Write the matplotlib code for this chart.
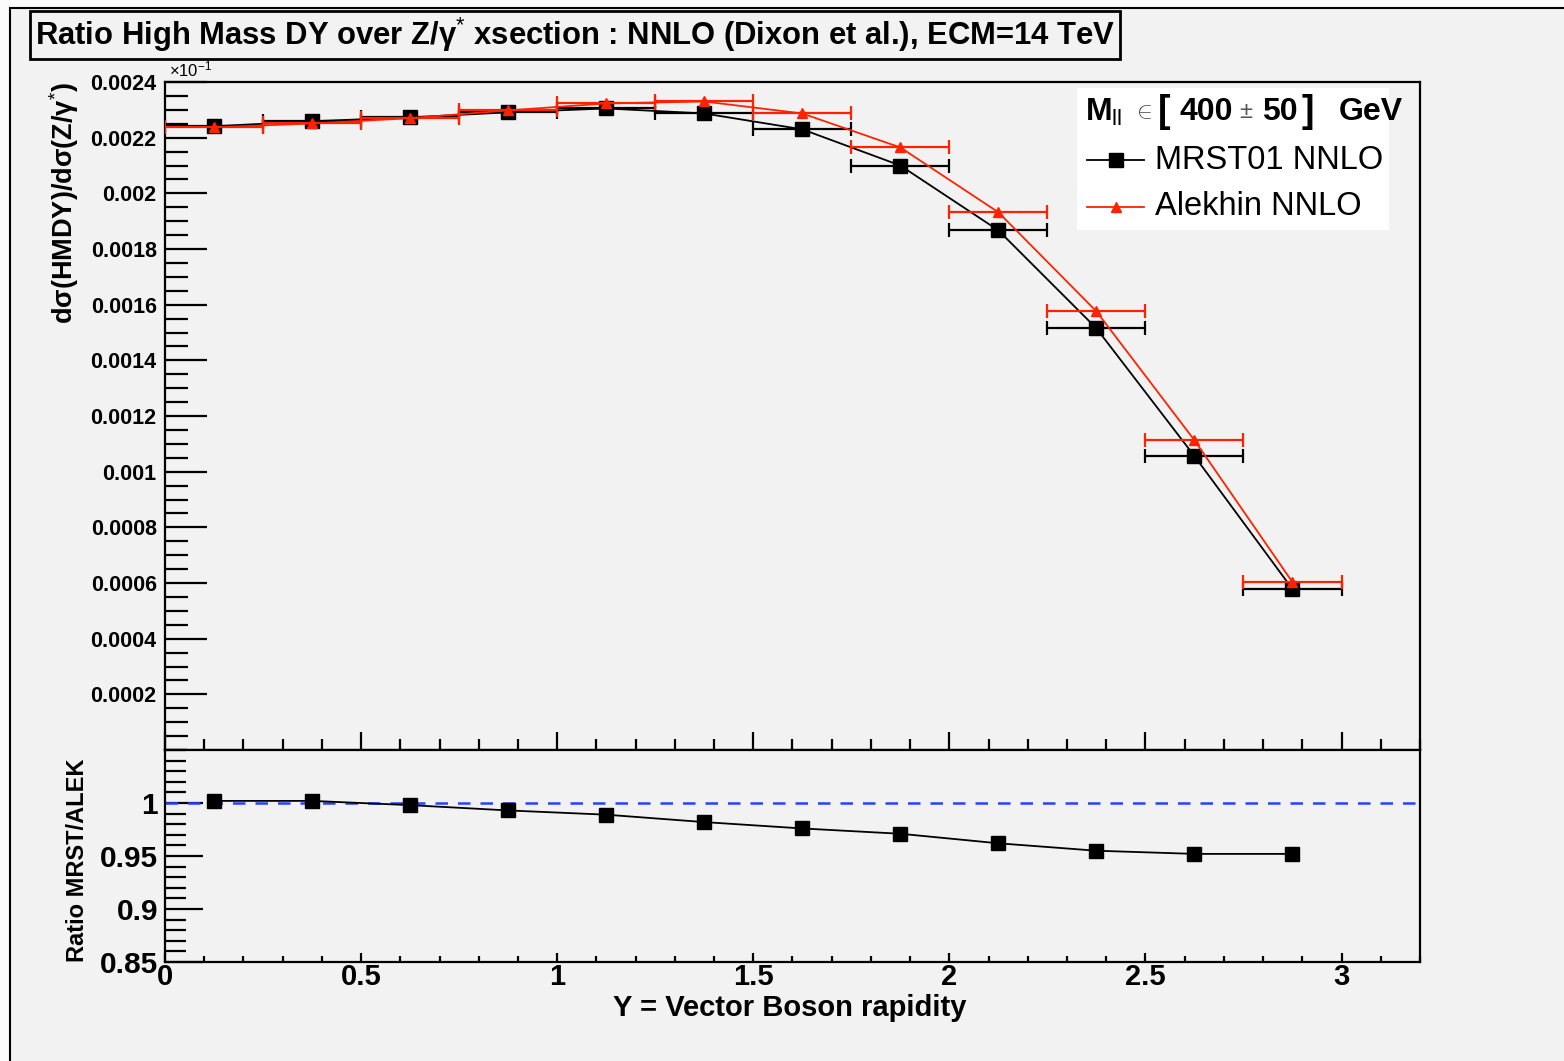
import matplotlib

matplotlib.use("Agg")
import matplotlib.pyplot as plt  # noqa: E402
from matplotlib.patches import Rectangle  # noqa: E402
from matplotlib.ticker import FixedLocator, MultipleLocator  # noqa: E402

plt.rcParams["font.family"] = ["Liberation Sans", "DejaVu Sans"]
plt.rcParams["mathtext.fontset"] = "custom"
plt.rcParams["mathtext.rm"] = "Liberation Sans"
plt.rcParams["mathtext.it"] = "Liberation Sans:italic"
plt.rcParams["mathtext.bf"] = "Liberation Sans:bold"

# rapidity bins (centres), half width 0.125
y_centres = [0.125, 0.375, 0.625, 0.875, 1.125, 1.375, 1.625, 1.875, 2.125, 2.375, 2.625, 2.875]
bin_half = 0.125

mrst = [0.002241, 0.002259, 0.002273, 0.002291, 0.002305, 0.002287,
        0.002230, 0.002100, 0.001867, 0.001515, 0.001056, 0.000578]
alekhin = [0.002237, 0.002251, 0.002270, 0.002298, 0.002323, 0.002330,
           0.002287, 0.002165, 0.001932, 0.001576, 0.001113, 0.000603]
ratio = [1.002, 1.002, 0.998, 0.993, 0.989, 0.982,
         0.976, 0.971, 0.962, 0.955, 0.952, 0.952]

top_yticks = [0.0002, 0.0004, 0.0006, 0.0008, 0.001, 0.0012, 0.0014, 0.0016,
              0.0018, 0.002, 0.0022, 0.0024]
top_ylabels = ["0.0002", "0.0004", "0.0006", "0.0008", "0.001", "0.0012", "0.0014",
               "0.0016", "0.0018", "0.002", "0.0022", "0.0024"]
bot_yticks = [0.85, 0.9, 0.95, 1.0]
bot_ylabels = ["0.85", "0.9", "0.95", "1"]
xticks = [0, 0.5, 1, 1.5, 2, 2.5, 3]
xlabels = ["0", "0.5", "1", "1.5", "2", "2.5", "3"]

BG = "#f2f2f2"
RED = "#ff2200"

fig = plt.figure(figsize=(15.64, 10.61), dpi=100)
fig.patch.set_facecolor("#fbfbfb")
# canvas frame (ROOT pad)
fig.patches.append(Rectangle((10 / 1564, -0.01), 1.1, 1 - 8 / 1061 + 0.01,
                             transform=fig.transFigure, facecolor=BG,
                             edgecolor="black", lw=1.5, zorder=-10))

ax = fig.add_axes([0.1055, 0.2931, 0.8024, 0.6296])
axr = fig.add_axes([0.1055, 0.0933, 0.8024, 0.1998], sharex=ax)

for a in (ax, axr):
    a.set_facecolor(BG)
    for s in a.spines.values():
        s.set_linewidth(1.6)

# upper panel
ax.errorbar(y_centres, mrst, xerr=bin_half, fmt="s-", color="black", ms=10,
            lw=1.3, elinewidth=1.6, capsize=5, capthick=1.6, label="MRST01 NNLO", zorder=3)
ax.errorbar(y_centres, alekhin, xerr=bin_half, fmt="^-", color=RED, ms=7,
            lw=1.3, elinewidth=1.6, capsize=5, capthick=1.6, label="Alekhin NNLO", zorder=4)

ax.set_xlim(0, 3.2)
ax.set_ylim(0, 0.0024)
ax.yaxis.set_major_locator(FixedLocator(top_yticks))
ax.set_yticklabels(top_ylabels, fontsize=15.5, fontweight="bold")
ax.yaxis.set_minor_locator(MultipleLocator(0.00005))
ax.xaxis.set_major_locator(MultipleLocator(0.5))
ax.xaxis.set_minor_locator(MultipleLocator(0.1))
ax.tick_params(axis="y", which="major", direction="in", length=30, width=1.6, pad=6)
ax.tick_params(axis="y", which="minor", direction="in", length=16.5, width=1.6)
ax.tick_params(axis="x", which="major", direction="in", length=13, width=1.6)
ax.tick_params(axis="x", which="minor", direction="in", length=8, width=1.6)
ax.tick_params(axis="x", labelbottom=False)
ax.set_ylabel(r"dσ(HMDY)/dσ(Z/γ$^{*}$)", fontsize=19.5,
              fontweight="bold", loc="top", labelpad=7)
ax.text(0.003, 1.004, r"$\times$10$^{-1}$", transform=ax.transAxes, fontsize=12,
        ha="left", va="bottom")

# legend box
ax.add_patch(Rectangle((0.727, 0.778), 0.248, 0.213, transform=ax.transAxes,
                       facecolor="white", edgecolor="none", zorder=5))
hy = 0.955
header = [(0.733, r"M$_{\rm ll}$", 23, "bold", "black"),
          (0.771, r"$\in$", 17, "normal", "#444444"),
          (0.791, "[", 27, "bold", "black"),
          (0.808, "400", 23, "bold", "black"),
          (0.856, r"$\pm$", 17, "normal", "#555555"),
          (0.874, "50", 23, "bold", "black"),
          (0.906, "]", 27, "bold", "black"),
          (0.935, "GeV", 23, "bold", "black")]
for hx, txt, fs, fw, col in header:
    ax.text(hx, hy, txt, transform=ax.transAxes, fontsize=fs, fontweight=fw,
            color=col, va="center", ha="left", zorder=6)
for yy, lab, col, mk, msz in [(0.883, "MRST01 NNLO", "black", "s", 10),
                              (0.813, "Alekhin NNLO", RED, "^", 7)]:
    ax.plot([0.735, 0.78], [yy, yy], color=col, lw=1.3, transform=ax.transAxes, zorder=6)
    ax.plot([0.7575], [yy], marker=mk, color=col, ms=msz, transform=ax.transAxes, zorder=6)
    ax.text(0.789, yy, lab, transform=ax.transAxes, fontsize=23.5, va="center", zorder=6)

# lower panel
axr.plot(y_centres, ratio, "s-", color="black", ms=10, lw=1.3, zorder=3)
axr.axhline(1.0, color="#2244ff", lw=1.8, ls=(0, (5, 4)), zorder=2)
axr.set_ylim(0.85, 1.05)
axr.yaxis.set_major_locator(FixedLocator(bot_yticks))
axr.set_yticklabels(bot_ylabels, fontsize=21.5, fontweight="bold")
axr.yaxis.set_minor_locator(MultipleLocator(0.01))
axr.tick_params(axis="y", which="major", direction="in", length=27, width=1.6, pad=5)
axr.tick_params(axis="y", which="minor", direction="in", length=15, width=1.6)
axr.xaxis.set_major_locator(FixedLocator(xticks))
axr.set_xticklabels(xlabels, fontsize=21, fontweight="bold")
axr.xaxis.set_minor_locator(MultipleLocator(0.1))
axr.tick_params(axis="x", which="major", direction="in", length=6.5, width=1.6, pad=1)
axr.tick_params(axis="x", which="minor", direction="in", length=4.3, width=1.6)
axr.set_ylabel("Ratio MRST/ALEK", fontsize=17, fontweight="bold", loc="bottom", labelpad=8)
axr.set_xlabel("Y = Vector Boson rapidity", fontsize=21, fontweight="bold")
axr.xaxis.set_label_coords(0.498, -0.15)

# title box
fig.text(0.0224, 0.967, r"Ratio High Mass DY over Z/γ$^{*}$ xsection : NNLO (Dixon et al.), ECM=14 TeV",
         fontsize=22.3, fontweight="bold", va="center", ha="left",
         bbox=dict(boxstyle="square,pad=0.15", facecolor=BG, edgecolor="black", lw=2))

fig.savefig("out.png", dpi=100, facecolor=fig.get_facecolor())
plt.close(fig)
